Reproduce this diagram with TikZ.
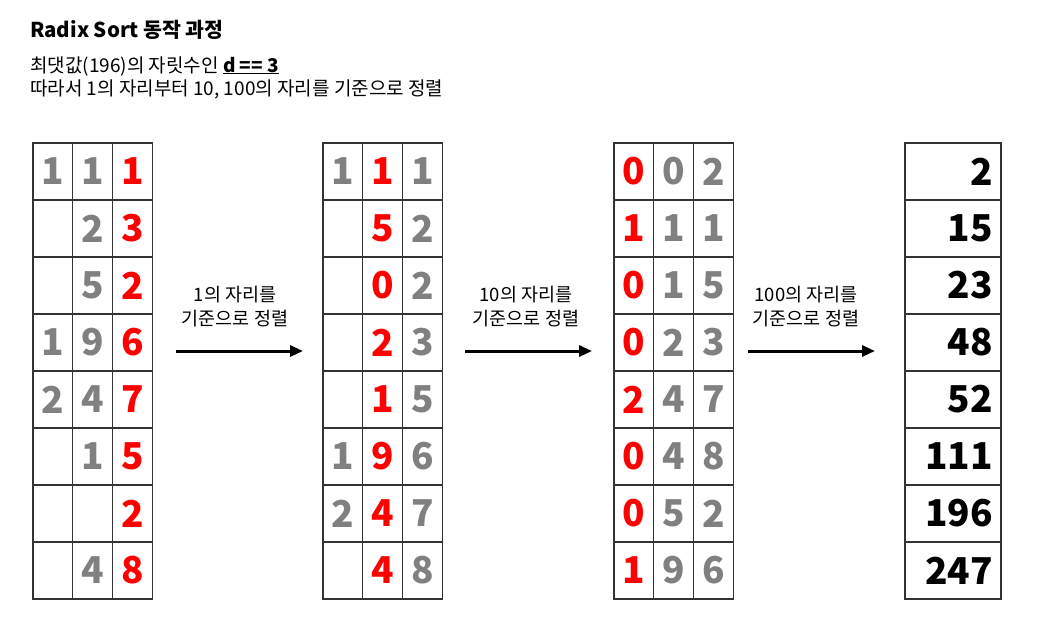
\documentclass[tikz,border=0pt]{standalone}
\usepackage{fontspec}
\setmainfont{Noto Sans CJK KR}
\usetikzlibrary{arrows.meta}
\definecolor{digitgray}{HTML}{808080}
\definecolor{digitred}{HTML}{FF0000}
\definecolor{gridline}{HTML}{333333}
\tikzset{cell/.style={draw=gridline, line width=1.2pt, minimum width=39.7pt, minimum height=57pt, inner sep=0pt,
    font=\fontsize{37}{40}\selectfont\bfseries, text=digitgray},
  hot/.style={text=digitred},
  numcell/.style={cell, minimum width=96pt, text width=80pt, inner xsep=8pt, align=right, text=black},
  steplabel/.style={align=center, inner sep=0pt, font=\fontsize{18.5}{24}\selectfont},
  steparrow/.style={-{Triangle[length=13pt,width=11pt]}, line width=3pt},
  heading/.style={anchor=base west, inner sep=0pt}
}

\begin{document}
\begin{tikzpicture}[x=1pt, y=-1pt]
  \useasboundingbox (0,0) rectangle (1040,627);

  % Heading
  \node[heading, font=\fontsize{20.5}{22}\selectfont\bfseries] (title) at (30,37) {Radix Sort 동작 과정};
  \node[heading, font=\fontsize{19}{20}\selectfont] (desc1) at (30,72) {최댓값(196)의 자릿수인 \underline{\textbf{d == 3}}};
  \node[heading, font=\fontsize{19}{20}\selectfont] (desc2) at (30,95) {따라서 1의 자리부터 10, 100의 자리를 기준으로 정렬};

  % Input (1의 자리)
  \foreach \a/\b/\c [count=\r] in {1/1/1, {}/2/3, {}/5/2, 1/9/6, 2/4/7, {}/1/5, {}/{}/2, {}/4/8} {
    \node[cell] (a-\r-1) at (52.9,{114.5+57*\r}) {\a};
    \node[cell] (a-\r-2) at (92.6,{114.5+57*\r}) {\b};
    \node[cell,hot] (a-\r-3) at (132.3,{114.5+57*\r}) {\c};
  }

  % After 1의 자리 (10의 자리)
  \foreach \a/\b/\c [count=\r] in {1/1/1, {}/5/2, {}/0/2, {}/2/3, {}/1/5, 1/9/6, 2/4/7, {}/4/8} {
    \node[cell] (b-\r-1) at (342.9,{114.5+57*\r}) {\a};
    \node[cell,hot] (b-\r-2) at (382.6,{114.5+57*\r}) {\b};
    \node[cell] (b-\r-3) at (422.3,{114.5+57*\r}) {\c};
  }

  % After 10의 자리 (100의 자리)
  \foreach \a/\b/\c [count=\r] in {0/0/2, 1/1/1, 0/1/5, 0/2/3, 2/4/7, 0/4/8, 0/5/2, 1/9/6} {
    \node[cell,hot] (c-\r-1) at (633.9,{114.5+57*\r}) {\a};
    \node[cell] (c-\r-2) at (673.6,{114.5+57*\r}) {\b};
    \node[cell] (c-\r-3) at (713.3,{114.5+57*\r}) {\c};
  }

  % Result
  \foreach \n [count=\r] in {2,15,23,48,52,111,196,247}
    \node[numcell] (d-\r) at (953,{114.5+57*\r}) {\n};

  % Steps
  \coordinate (s1) at (176,351);  \coordinate (e1) at (303,351);
  \coordinate (s2) at (465,351);  \coordinate (e2) at (592,351);
  \coordinate (s3) at (748,351);  \coordinate (e3) at (875,351);
  \node[steplabel] (lab1) at (235,307) {1의 자리를\\기준으로 정렬};
  \node[steplabel] (lab2) at (526,307) {10의 자리를\\기준으로 정렬};
  \node[steplabel] (lab3) at (806,307) {100의 자리를\\기준으로 정렬};
  \draw[steparrow] (s1) -- (e1);
  \draw[steparrow] (s2) -- (e2);
  \draw[steparrow] (s3) -- (e3);

\end{tikzpicture}
\end{document}
